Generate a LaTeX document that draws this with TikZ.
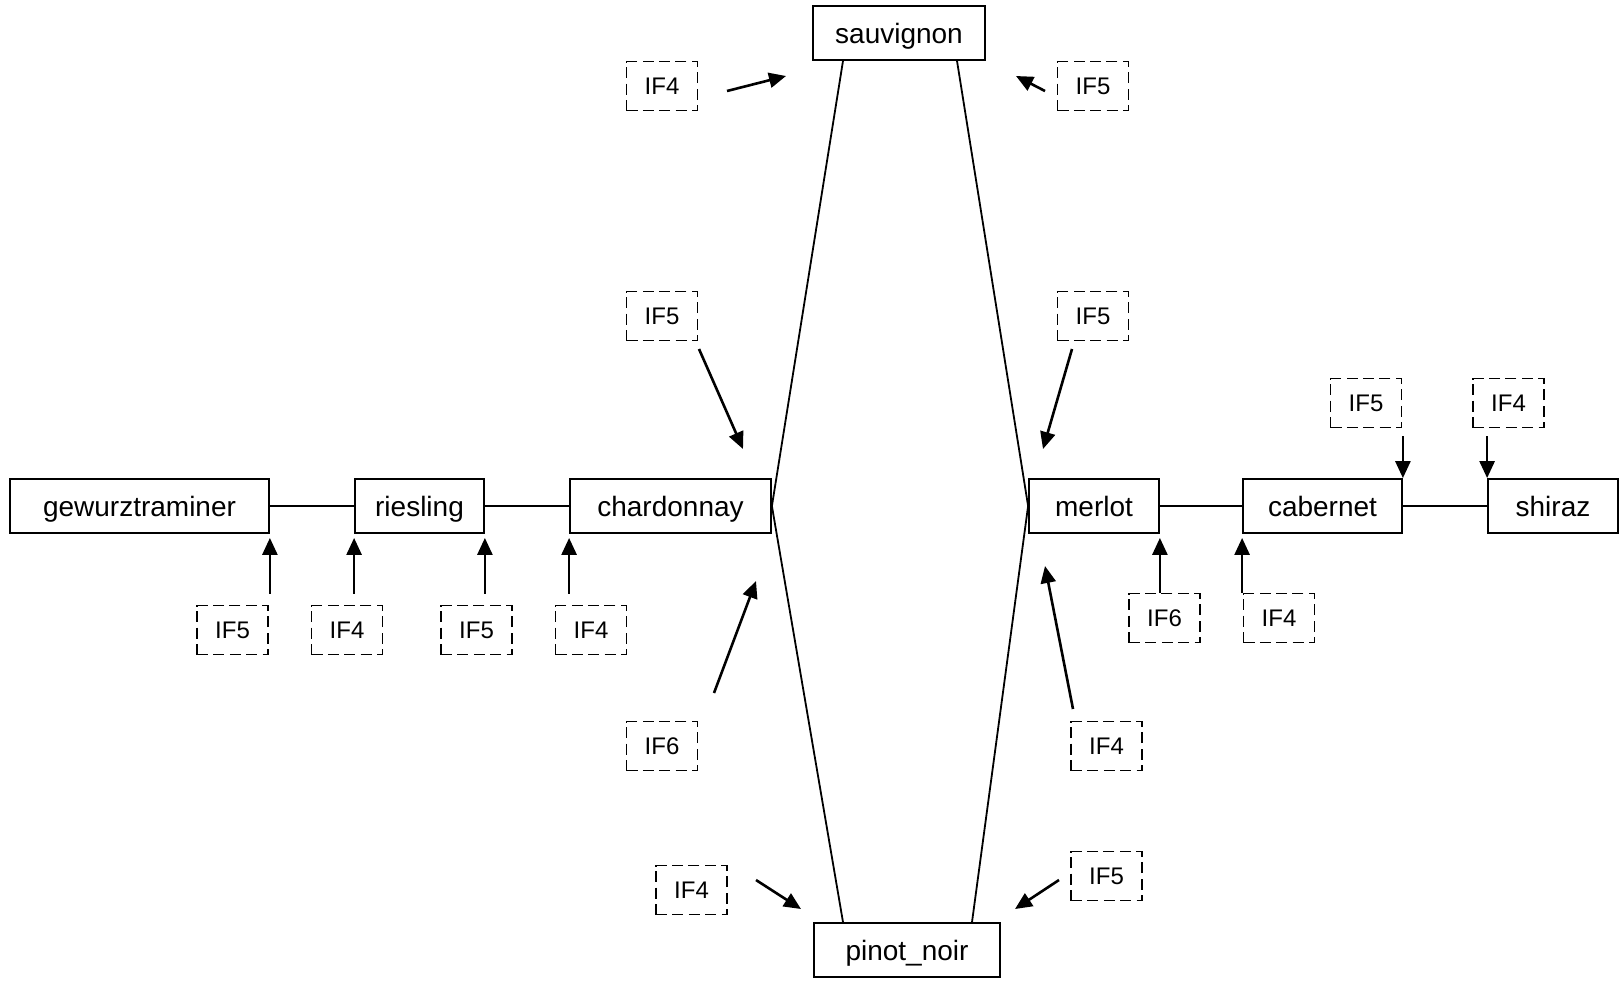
\documentclass[tikz,border=0pt]{standalone}
\usepackage{fontspec}
\setmainfont{Liberation Sans}
\usetikzlibrary{arrows.meta}

\tikzset{
  grape/.style={draw, line width=0.9pt, minimum height=27pt, inner sep=0pt,
    text height=10pt, text depth=0pt, font=\fontsize{14}{16}\selectfont},
  iface/.style={draw, line width=0.9pt, dash pattern=on 5.5pt off 2.7pt,
    minimum width=35.5pt, minimum height=24.5pt, inner sep=0pt,
    text height=8.6pt, text depth=0pt, font=\fontsize{12}{14}\selectfont},
  feed/.style={-{Triangle[length=8.5pt,width=7.5pt]}, line width=1.3pt}
}

\begin{document}
\begin{tikzpicture}[x=0.5pt, y=-0.5pt]
	\useasboundingbox (0,0) rectangle (1622,981);
	% grapes
	\node[grape, minimum width=129.5pt] (gewurztraminer) at (139.5,506) {gewurztraminer};
	\node[grape, minimum width=64.5pt] (riesling) at (419.5,506) {riesling};
	\node[grape, minimum width=100.5pt] (chardonnay) at (670.5,506) {chardonnay};
	\node[grape, minimum width=65pt] (merlot) at (1094,506) {merlot};
	\node[grape, minimum width=79.5pt] (cabernet) at (1322.5,506) {cabernet};
	\node[grape, minimum width=65pt] (shiraz) at (1553,506) {shiraz};
	\node[grape, minimum width=86pt] (sauvignon) at (899,33) {sauvignon};
	\node[grape, minimum width=93pt] (pinot_noir) at (907,950) {pinot\_noir};

	\draw[line width=0.9pt] (gewurztraminer) -- (riesling) -- (chardonnay);
	\draw[line width=0.9pt] (merlot) -- (cabernet) -- (shiraz);
	\draw[line width=0.9pt] ([xshift=-28pt]sauvignon.south) -- (chardonnay.east) -- ([xshift=-32pt]pinot_noir.north);
	\draw[line width=0.9pt] ([xshift=29pt]sauvignon.south) -- (merlot.west) -- ([xshift=32.5pt]pinot_noir.north);

	% interfaces
	\node[iface] (if_sauv_l) at (662,86) {IF4};
	\node[iface] (if_sauv_r) at (1093,86) {IF5};
	\node[iface] (if_char_t) at (662,316) {IF5};
	\node[iface] (if_merl_t) at (1093,316) {IF5};
	\node[iface] (if_gewu) at (232.5,630) {IF5};
	\node[iface] (if_ries_l) at (347,630) {IF4};
	\node[iface] (if_ries_r) at (476.5,630) {IF5};
	\node[iface] (if_char_l) at (591,630) {IF4};
	\node[iface] (if_char_b) at (662,746) {IF6};
	\node[iface] (if_merl_b) at (1106.5,746) {IF4};
	\node[iface] (if_merl_r) at (1164.5,618) {IF6};
	\node[iface] (if_cabe_l) at (1279,618) {IF4};
	\node[iface] (if_cabe_r) at (1366,403) {IF5};
	\node[iface] (if_shir) at (1508.5,403) {IF4};
	\node[iface] (if_pino_l) at (691.5,890) {IF4};
	\node[iface] (if_pino_r) at (1106.5,876) {IF5};

	% free arrow ends
	\coordinate (s1) at (727,91);   \coordinate (t1) at (786,76);
	\coordinate (s2) at (1045,91);  \coordinate (t2) at (1016,76);
	\coordinate (s3) at (699,349);  \coordinate (t3) at (743,449);
	\coordinate (s4) at (1072,349); \coordinate (t4) at (1043,449);
	\coordinate (s5) at (714,693);  \coordinate (t5) at (756,581);
	\coordinate (s6) at (1073,709); \coordinate (t6) at (1045,566);
	\coordinate (s7) at (756,880);  \coordinate (t7) at (801,909);
	\coordinate (s8) at (1059,880); \coordinate (t8) at (1015,909);
	\foreach \i in {1,...,8}
		\draw[feed] (s\i) -- (t\i);

	\draw[feed] ([yshift=5.5pt]if_gewu.north -| gewurztraminer.east) -- ([yshift=-2pt]gewurztraminer.south east);
	\draw[feed] ([yshift=5.5pt]if_ries_l.north -| riesling.west) -- ([yshift=-2pt]riesling.south west);
	\draw[feed] ([yshift=5.5pt]if_ries_r.north -| riesling.east) -- ([yshift=-2pt]riesling.south east);
	\draw[feed] ([yshift=5.5pt]if_char_l.north -| chardonnay.west) -- ([yshift=-2pt]chardonnay.south west);
	\draw[feed] (if_merl_r.north -| merlot.east) -- ([yshift=-2pt]merlot.south east);
	\draw[feed] (if_cabe_l.north -| cabernet.west) -- ([yshift=-2pt]cabernet.south west);
	\draw[feed] ([yshift=-4pt]if_cabe_r.south -| cabernet.east) -- (cabernet.north east);
	\draw[feed] ([yshift=-4pt]if_shir.south -| shiraz.west) -- (shiraz.north west);
\end{tikzpicture}
\end{document}
